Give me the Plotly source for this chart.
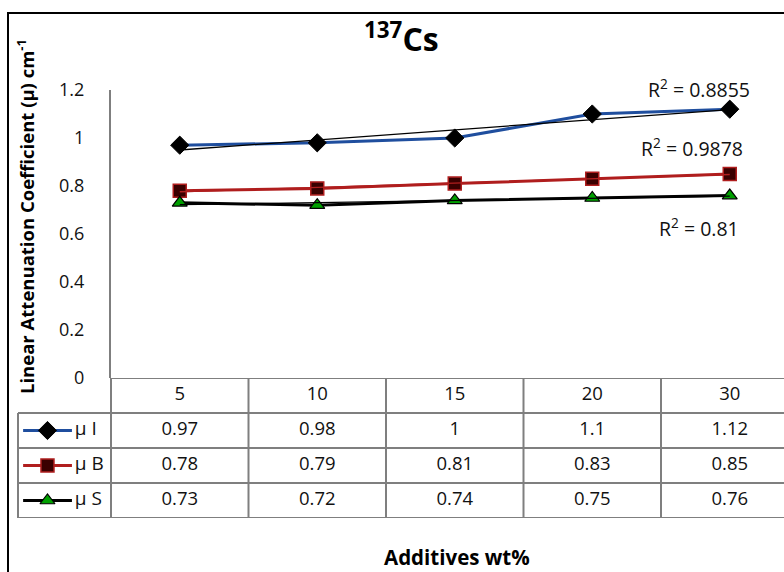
import numpy as np
import plotly.graph_objects as go

W, H = 784, 572

# ---------------- data ----------------
categories = ["5", "10", "15", "20", "30"]
series_names = ["μ I", "μ B", "μ S"]
mu_I = [0.97, 0.98, 1, 1.1, 1.12]
mu_B = [0.78, 0.79, 0.81, 0.83, 0.85]
mu_S = [0.73, 0.72, 0.74, 0.75, 0.76]
y_tickvals = [0, 0.2, 0.4, 0.6, 0.8, 1, 1.2]
y_ticktext = ["0", "0.2", "0.4", "0.6", "0.8", "1", "1.2"]
title_text = "<b><sup>137</sup>Cs</b>"
y_title = "<b>Linear Attenuation Coefficient (μ) cm<sup>-1</sup></b>"
x_title = "<b>Additives wt%</b>"

# ---------------- styles ----------------
FONT = "Open Sans"
TXT = "#111111"
GRID = "#7f7f7f"
styles = [
    dict(color="#1F4E9E", symbol="diamond", mfill="#000000", mline="#000000", mlw=1, size=14),
    dict(color="#B01E1E", symbol="square", mfill="#3A0000", mline="#B01E1E", mlw=1.5, size=13),
    dict(color="#000000", symbol="triangle-up", mfill="#00A000", mline="#000000", mlw=1.2, size=13),
]
trend_colors = ["#000000", "#B01E1E", "#000000"]
r2_pos = [(699, 88), (692, 147), (699, 227)]


def px(x):
    return x / W


def py(y):
    return 1 - y / H


xs = list(range(len(categories)))
cat_w = 137.5
x_left = 111
x_range = [-0.5, -0.5 + (W - x_left) / cat_w]

fig = go.Figure()
all_series = [mu_I, mu_B, mu_S]

for i, vals in enumerate(all_series):
    s = styles[i]
    fig.add_trace(go.Scatter(
        x=xs, y=vals, mode="lines+markers", xaxis="x", yaxis="y",
        line=dict(color=s["color"], width=3),
        marker=dict(symbol=s["symbol"], size=s["size"], color=s["mfill"],
                    line=dict(color=s["mline"], width=s["mlw"])),
        showlegend=False, hoverinfo="skip"))

r2_texts = []
for i, vals in enumerate(all_series):
    xa = np.array(xs, dtype=float)
    ya = np.array(vals, dtype=float)
    k, b = np.polyfit(xa, ya, 1)
    fit = k * xa + b
    r2 = 1 - np.sum((ya - fit) ** 2) / np.sum((ya - ya.mean()) ** 2)
    r2_texts.append(("%.4f" % r2).rstrip("0"))
    fig.add_trace(go.Scatter(
        x=[xa[0], xa[-1]], y=[fit[0], fit[-1]], mode="lines", xaxis="x", yaxis="y",
        line=dict(color=trend_colors[i], width=1.3),
        showlegend=False, hoverinfo="skip"))

# ---------------- table (x2/y2) ----------------
tab_top, tab_bot = 378, 518
n_rows = 4
cell_x, cell_y, cell_t = [], [], []
for j, c in enumerate(categories):
    cell_x.append(j); cell_y.append(0.5); cell_t.append(c)
for i, vals in enumerate(all_series):
    for j, v in enumerate(vals):
        cell_x.append(j); cell_y.append(i + 1.5); cell_t.append(str(v))
fig.add_trace(go.Scatter(
    x=cell_x, y=cell_y, text=cell_t, mode="text", xaxis="x2", yaxis="y2",
    textfont=dict(family=FONT, size=18.5, color=TXT),
    showlegend=False, hoverinfo="skip", cliponaxis=False))

# legend column (x3/y2)
for i, name in enumerate(series_names):
    s = styles[i]
    yy = i + 1.5
    fig.add_trace(go.Scatter(
        x=[0.055, 0.58], y=[yy, yy], mode="lines", xaxis="x3", yaxis="y2",
        line=dict(color=s["color"], width=3), showlegend=False, hoverinfo="skip",
        cliponaxis=False))
    fig.add_trace(go.Scatter(
        x=[0.317], y=[yy], mode="markers", xaxis="x3", yaxis="y2",
        marker=dict(symbol=s["symbol"], size=s["size"], color=s["mfill"],
                    line=dict(color=s["mline"], width=s["mlw"])),
        showlegend=False, hoverinfo="skip", cliponaxis=False))
    fig.add_trace(go.Scatter(
        x=[0.61], y=[yy], text=[name], mode="text", textposition="middle right",
        xaxis="x3", yaxis="y2", textfont=dict(family=FONT, size=19, color=TXT),
        showlegend=False, hoverinfo="skip", cliponaxis=False))

shapes = []
line_style = dict(color=GRID, width=2)
shapes.append(dict(type="line", xref="paper", yref="y2", x0=px(x_left), x1=1.02,
                   y0=0, y1=0, line=line_style))
for r in range(1, n_rows + 1):
    shapes.append(dict(type="line", xref="paper", yref="y2", x0=px(18), x1=1.02,
                       y0=r, y1=r, line=line_style))
for j in range(len(categories) - 1):
    shapes.append(dict(type="line", xref="x2", yref="y2", x0=j + 0.5, x1=j + 0.5,
                       y0=0, y1=n_rows, line=line_style))
shapes.append(dict(type="line", xref="paper", yref="y2", x0=px(x_left), x1=px(x_left),
                   y0=0, y1=n_rows, line=line_style))
shapes.append(dict(type="line", xref="paper", yref="y2", x0=px(18), x1=px(18),
                   y0=1, y1=n_rows, line=line_style))
shapes.append(dict(type="rect", xref="paper", yref="paper", x0=px(8), x1=1.05,
                   y0=-0.05, y1=py(13), line=dict(color="#000000", width=2)))

annotations = [
    dict(text=title_text, x=px(401), y=py(37), xref="paper", yref="paper",
         xanchor="center", yanchor="middle",
         showarrow=False, font=dict(family=FONT, size=32, color="#000000")),
    dict(text=y_title, x=px(25), y=py(217), xref="paper", yref="paper", textangle=-90,
         xanchor="center", yanchor="middle",
         showarrow=False, font=dict(family=FONT, size=18.5, color="#000000")),
    dict(text=x_title, x=px(457), y=py(557), xref="paper", yref="paper",
         xanchor="center", yanchor="middle",
         showarrow=False, font=dict(family=FONT, size=20.5, color="#000000")),
]
for i, t in enumerate(r2_texts):
    xpos, ypos = r2_pos[i]
    annotations.append(dict(text="R<sup>2</sup> = " + t, x=px(xpos), y=py(ypos),
                            xref="paper", yref="paper", showarrow=False,
                            xanchor="center", yanchor="middle",
                            font=dict(family=FONT, size=19.5, color=TXT)))

fig.update_layout(
    width=W, height=H, margin=dict(l=0, r=0, t=0, b=0, pad=0, autoexpand=False),
    paper_bgcolor="white", plot_bgcolor="white",
    font=dict(family=FONT, color=TXT),
    xaxis=dict(domain=[px(x_left), 1], range=x_range, showgrid=False, zeroline=False,
               showticklabels=False, showline=False, fixedrange=True),
    yaxis=dict(domain=[py(378), py(90)], range=[0, 1.2], tickvals=y_tickvals,
               ticktext=y_ticktext, showgrid=False, zeroline=False, showline=True,
               linecolor=GRID, linewidth=2, ticks="", ticklabelstandoff=21,
               tickfont=dict(family=FONT, size=18, color=TXT), fixedrange=True),
    xaxis2=dict(domain=[px(x_left), 1], range=x_range, visible=False, fixedrange=True),
    yaxis2=dict(domain=[py(tab_bot), py(tab_top)], range=[n_rows, 0], visible=False,
                fixedrange=True),
    xaxis3=dict(domain=[px(18), px(x_left)], range=[0, 1], visible=False, fixedrange=True),
    shapes=shapes, annotations=annotations,
)

fig.write_html("out.html", config={"responsive": False, "displayModeBar": False},
               post_script="document.body.style.margin='0';document.body.style.overflow='hidden';")
